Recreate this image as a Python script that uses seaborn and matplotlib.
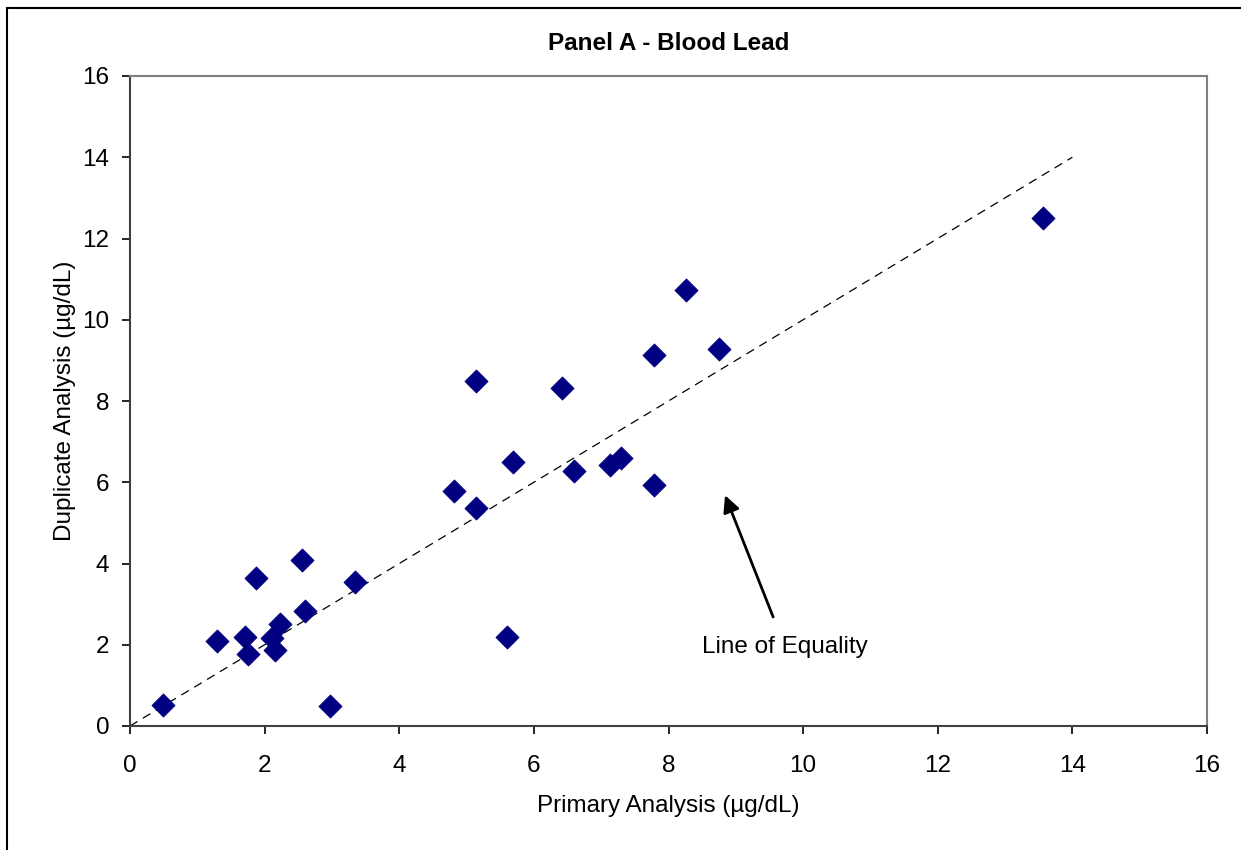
#!/usr/bin/env python3
"""Panel A - Blood Lead: duplicate vs primary analysis scatter."""

import numpy as np
import pandas as pd
import matplotlib
matplotlib.use("Agg")
import matplotlib.pyplot as plt
from matplotlib.patches import Rectangle
import seaborn as sns

# -- data ---------------------------------------------------------------------
primary = [0.49, 1.29, 1.71, 1.75, 1.87, 2.11, 2.15, 2.23, 2.55, 2.60,
           2.97, 3.34, 4.81, 5.14, 5.14, 5.60, 5.69, 6.42, 6.60, 7.13,
           7.29, 7.78, 7.78, 8.26, 8.75, 13.56]
duplicate = [0.52, 2.10, 2.19, 1.77, 3.64, 2.17, 1.87, 2.51, 4.09, 2.83,
             0.49, 3.55, 5.78, 5.37, 8.49, 2.19, 6.50, 8.32, 6.28, 6.42,
             6.60, 5.93, 9.13, 10.73, 9.28, 12.50]
equality_line = [0, 14]
ticks = [0, 2, 4, 6, 8, 10, 12, 14, 16]

df = pd.DataFrame({"primary": primary, "duplicate": duplicate})

# -- style --------------------------------------------------------------------
sns.set_style("white")
plt.rcParams["font.family"] = ["Liberation Sans", "DejaVu Sans"]
plt.rcParams["text.color"] = "black"
plt.rcParams["axes.labelcolor"] = "black"

navy = "#000080"
fs = 17.5

fig = plt.figure(figsize=(12.41, 8.5), dpi=100)
ax = fig.add_axes([130 / 1241, 1 - 726 / 850, 1077 / 1241, 650 / 850])

sns.lineplot(x=equality_line, y=equality_line, ax=ax, color="black",
             linewidth=0.9, linestyle=(0, (7, 5)))
sns.scatterplot(data=df, x="primary", y="duplicate", ax=ax, marker="D",
                s=140, color=navy, edgecolor=navy, linewidth=0.5, zorder=3)

ax.set_xlim(0, 16)
ax.set_ylim(0, 16)
ax.set_xticks(ticks)
ax.set_yticks(ticks)
ax.tick_params(axis="both", direction="out", length=6, width=1.2,
               labelsize=fs, colors="black", bottom=True, left=True)
ax.tick_params(axis="x", pad=15)
ax.tick_params(axis="y", pad=9)

for side in ["top", "right"]:
    ax.spines[side].set_color("#808080")
    ax.spines[side].set_linewidth(1.5)
for side in ["left", "bottom"]:
    ax.spines[side].set_color("#404040")
    ax.spines[side].set_linewidth(1.5)

ax.set_xlabel("Primary Analysis (µg/dL)", fontsize=fs, labelpad=13)
ax.set_ylabel("Duplicate Analysis (µg/dL)", fontsize=fs, labelpad=4)
ax.set_title("Panel A - Blood Lead", fontsize=fs, fontweight="bold", pad=19)

ax.annotate("Line of Equality", xy=(8.84, 5.68), xytext=(9.73, 1.95),
            ha="center", va="center", fontsize=fs,
            arrowprops=dict(arrowstyle="-|>", color="black", lw=2,
                            mutation_scale=25, shrinkA=12, shrinkB=0))

# outer chart frame
fig.patches.append(Rectangle((7 / 1241, -0.05), 1.1, 1 - 8 / 850 + 0.05,
                             transform=fig.transFigure, fill=False,
                             edgecolor="black", linewidth=1.5))

fig.savefig("out.png", dpi=100)
plt.close(fig)
